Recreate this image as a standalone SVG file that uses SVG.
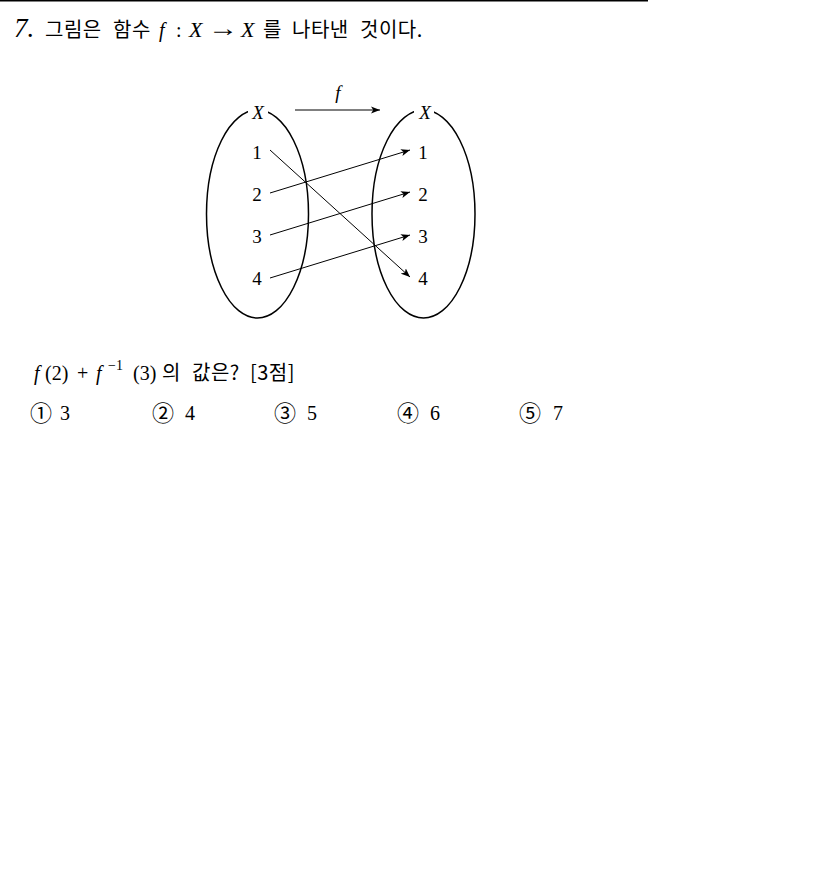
<svg xmlns="http://www.w3.org/2000/svg" width="822" height="896" viewBox="0 0 822 896">
<defs>
<marker id="ah" viewBox="0 0 10 10" refX="10" refY="5" markerWidth="9" markerHeight="9" markerUnits="userSpaceOnUse" orient="auto"><path d="M0,1 L10,5 L0,9 L2.5,5 Z" fill="#000"/></marker>
<style>
.t{font-family:"Liberation Serif","Noto Sans CJK KR",serif;font-size:20px;fill:#000}
.k{font-family:"Noto Sans CJK KR","Liberation Serif",sans-serif;font-size:20px;letter-spacing:0.5px;fill:#000}
.c2{font-family:"Noto Sans CJK KR","DejaVu Sans",sans-serif;font-size:22px;fill:#000}
.i{font-style:italic}
.n{font-family:"Liberation Serif",serif;font-size:19px;fill:#000;text-anchor:middle}
.e{fill:none;stroke:#000;stroke-width:1.5}
.c{fill:none;stroke:#000;stroke-width:1;marker-end:url(#ah)}
</style>
</defs>
<rect width="822" height="896" fill="#fff"/>
<line x1="0" y1="0.75" x2="648" y2="0.75" stroke="#000" stroke-width="1.5"/>
<g id="title">
<text x="14" y="37" class="t i" style="font-size:27px">7.</text>
<text x="45" y="37" class="k">그림은</text>
<text x="113" y="37" class="k">함수</text>
<text x="159" y="37" class="t i">f</text>
<text x="176" y="37" class="t">:</text>
<text x="189" y="37" class="t i" style="font-size:22px">X</text>
<text x="208" y="36" class="t" style="font-size:24px" textLength="30" lengthAdjust="spacingAndGlyphs">→</text>
<text x="241" y="37" class="t i" style="font-size:22px">X</text>
<text x="263" y="37" class="k">를</text>
<text x="292" y="37" class="k">나타낸</text>
<text x="360" y="37" class="k">것이다.</text>
</g>
<g id="setX">
<ellipse class="e" cx="257.5" cy="214" rx="51" ry="104"/>
<rect x="248" y="103" width="20" height="17" fill="#fff"/>
<text x="258" y="119" class="n i">X</text>
<text x="257" y="159" class="n">1</text>
<text x="257" y="201" class="n">2</text>
<text x="257" y="243" class="n">3</text>
<text x="257" y="285" class="n">4</text>
</g>
<g id="setY">
<ellipse class="e" cx="423.5" cy="214" rx="51.5" ry="104"/>
<rect x="414" y="103" width="20" height="17" fill="#fff"/>
<text x="425" y="119" class="n i">X</text>
<text x="423" y="159" class="n">1</text>
<text x="423" y="201" class="n">2</text>
<text x="423" y="243" class="n">3</text>
<text x="423" y="285" class="n">4</text>
</g>
<g id="fLabel">
<text x="338" y="99" class="n i">f</text>
</g>
<g id="connectors">
<line class="c" x1="295" y1="110" x2="380" y2="110"/>
<line class="c" x1="270" y1="150" x2="410" y2="277"/>
<line class="c" x1="270" y1="193" x2="410" y2="150"/>
<line class="c" x1="270" y1="235" x2="410" y2="192"/>
<line class="c" x1="270" y1="278" x2="410" y2="235"/>
</g>
<g id="question">
<text x="34" y="380" class="t i">f</text>
<text x="45" y="380" class="t">(2)</text>
<text x="77" y="380" class="t">+</text>
<text x="96" y="380" class="t i">f</text>
<text x="108" y="370" class="t" style="font-size:14px">−1</text>
<text x="133" y="380" class="t">(3)</text>
<text x="162" y="380" class="k">의</text>
<text x="192" y="380" class="k">값은?</text>
<text x="250" y="380" class="k">[3점]</text>
</g>
<g id="choices">
<text x="30" y="421" class="c2">①</text>
<text x="60" y="420" class="t">3</text>
<text x="152" y="421" class="c2">②</text>
<text x="185" y="420" class="t">4</text>
<text x="274" y="421" class="c2">③</text>
<text x="307" y="420" class="t">5</text>
<text x="397" y="421" class="c2">④</text>
<text x="430" y="420" class="t">6</text>
<text x="519" y="421" class="c2">⑤</text>
<text x="553" y="420" class="t">7</text>
</g>
</svg>
